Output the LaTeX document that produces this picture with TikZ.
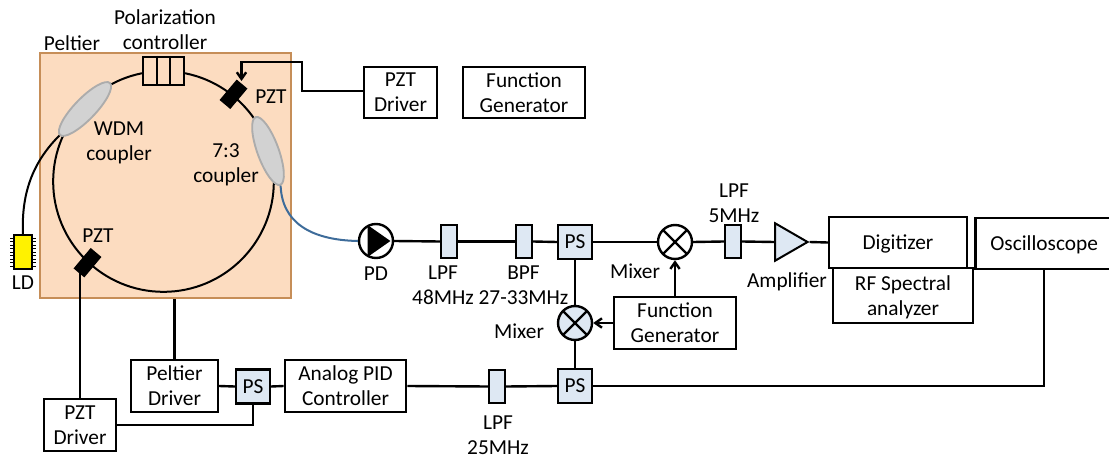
\documentclass[tikz,border=0pt]{standalone}
\usepackage{fontspec}
\setmainfont{Carlito}
\usetikzlibrary{shapes.geometric}
\usetikzlibrary{arrows.meta}
\definecolor{cpeltier}{RGB}{252, 220, 192}
\definecolor{cedge}{RGB}{198, 142, 88}
\definecolor{cpart}{RGB}{222, 232, 243}
\definecolor{cfibre}{RGB}{62, 108, 154}
\tikzset{
  lbl/.style={inner sep=0pt, align=center, text depth=0pt, font=\fontsize{16}{18.7}\selectfont},
  box/.style={rectangle, draw=black, line width=1.8pt, inner sep=0pt, align=center, text depth=0pt, font=\fontsize{16}{18.7}\selectfont},
  part/.style={rectangle, draw=black, fill=cpart, line width=1.8pt, inner sep=0pt, minimum width=12pt, minimum height=25pt},
  psbox/.style={part, minimum width=25.5pt, minimum height=25.5pt, font=\fontsize{16}{18.7}\selectfont},
  mixer/.style={circle, draw=black, line width=1.8pt, minimum size=25.5pt, inner sep=0pt,
    path picture={\draw [line width=1.8pt] (path picture bounding box.north west) -- (path picture bounding box.south east)
      (path picture bounding box.north east) -- (path picture bounding box.south west);}},
  pzt/.style={rectangle, fill=black, minimum width=20pt, minimum height=10.5pt, inner sep=0pt, rotate=50},
  coupler/.style={ellipse, draw=gray!65, fill=gray!35, line width=1.4pt, inner sep=0pt, minimum width=54pt, minimum height=16pt},
  wire/.style={line width=1.8pt, color=black},
  fibre/.style={line width=1.5pt, color=black},
}
\begin{document}
\begin{tikzpicture}[x=0.75pt, y=-0.75pt]
\useasboundingbox (0,0) rectangle (1109,459);
% temperature stage and fibre ring
\node (stage) [rectangle, draw=cedge, fill=cpeltier, line width=1.5pt, minimum width=188pt, minimum height=183.5pt, inner sep=0pt] at (165.5,175.5) {};
\node (ring) [circle, draw=black, line width=1.5pt, minimum size=165.5pt, inner sep=0pt] at (163.5,181.5) {};
\node (pc) [rectangle, draw=black, fill=cpeltier, line width=1.5pt, minimum width=31pt, minimum height=21pt, inner sep=0pt] at (163.3,71) {};
\draw [fibre] ([xshift=-5pt]pc.north) -- ([xshift=-5pt]pc.south);
\draw [fibre] ([xshift=5pt]pc.north) -- ([xshift=5pt]pc.south);
\node (wdm) [coupler, rotate=46] at (85,109) {};
\node (tap) [coupler, rotate=-70] at (268,151) {};
\node (pzttop) [pzt] at (233.5,94.3) {};
\node (pztbot) [pzt] at (87.5,262.7) {};
\node (ld) [rectangle, draw=black, fill=yellow, line width=1.5pt, minimum width=13pt, minimum height=25.5pt, inner sep=0pt] at (23,252) {};
\foreach \y in {238,241.5,...,267} {
  \draw [line width=0.7pt] (10,\y) -- (14,\y);
  \draw [line width=0.7pt] (32,\y) -- (36,\y);
}
% upper driver
\node (pztdrvtop) [box, minimum width=54.5pt, minimum height=38pt] at (400.5,92.5) {PZT\\Driver};
\node (fgtop) [box, minimum width=91.5pt, minimum height=38pt] at (524,92.5) {Function\\Generator};
% signal line
\node (pd) [circle, draw=black, fill=white, line width=1.8pt, minimum size=25.5pt, inner sep=0pt] at (376,241) {};
\node (pdtri) [isosceles triangle, isosceles triangle apex angle=70, fill=black, inner sep=0pt, minimum height=17pt, minimum width=19pt] at (376,241) {};
\node (lpfa) [part] at (449,241.5) {};
\node (bpf) [part] at (524,241.5) {};
\node (psa) [psbox] at (575,242) {PS};
\node (mixa) [mixer, fill=white] at (675,242) {};
\node (lpfb) [part] at (733,241.5) {};
\node (amp) [isosceles triangle, isosceles triangle apex angle=60, draw=black, fill=cpart, line width=1.5pt, inner sep=0pt, minimum height=24pt, minimum width=28pt] at (786,242) {};
\node (dig) [box, minimum width=103.5pt, minimum height=38.5pt] at (898,242.5) {Digitizer};
\node (rf) [box, minimum width=105pt, minimum height=41pt] at (903,295.5) {RF Spectral\\analyzer};
\node (osc) [box, minimum width=103pt, minimum height=38.5pt, text width=90pt, align=left] at (1044,243.5) {\hspace{4.75pt}Oscilloscope};
% lower loop
\node (mixb) [mixer, fill=cpart] at (575,323) {};
\node (fgb) [box, minimum width=91.5pt, minimum height=39pt] at (675,323) {Function\\Generator};
\node (psb) [psbox] at (575,386) {PS};
\node (lpfc) [part] at (497,386.5) {};
\node (pid) [box, minimum width=91pt, minimum height=39pt] at (345.5,386) {Analog PID\\Controller};
\node (psc) [psbox] at (253,386.5) {PS};
\node (peldrv) [box, minimum width=65pt, minimum height=39pt] at (174.5,386) {Peltier\\Driver};
\node (pztdrvbot) [box, minimum width=54pt, minimum height=39pt] at (80,425) {PZT\\Driver};
% labels
\node (lblpel) [lbl] at (72,43) {Peltier};
\node (lblpc) [lbl] at (165,30) {Polarization\\controller};
\node (lblwdm) [lbl] at (119,141) {WDM\\coupler};
\node (lbltap) [lbl] at (226,163) {7:3\\coupler};
\node (lblpzta) [lbl] at (271,97) {PZT};
\node (lblpztb) [lbl] at (98,236) {PZT};
\node (lblld) [lbl] at (23,283) {LD};
\node (lblpd) [lbl] at (376,274) {PD};
\node (lbllpfa) [lbl] at (443,285.5) {LPF\\48MHz};
\node (lblbpf) [lbl] at (523.5,285.5) {BPF\\27-33MHz};
\node (lblmixa) [lbl] at (635,271) {Mixer};
\node (lblmixb) [lbl] at (519,331) {Mixer};
\node (lbllpfb) [lbl] at (734,203) {LPF\\5MHz};
\node (lblamp) [lbl] at (787,280) {Amplifier};
\node (lbllpfc) [lbl] at (498,435) {LPF\\25MHz};
% fibres
\coordinate (pzttip) at (241.5,81);
\coordinate (bendone) at (241.5,62);
\coordinate (bendtwo) at (302,62);
\coordinate (bendthree) at (302,91);
\coordinate (oscdrop) at (1044,386);
\coordinate (pztcorner) at (253,425);
\draw [fibre] (ld.north) .. controls (21,190) and (35,160) .. (wdm.west);
\draw [line width=1.5pt, color=cfibre] (tap.east) .. controls (282,222) and (310,240) .. (pd.west);
% wires
\draw [wire, -{Straight Barb[length=5pt,width=7pt]}] (pztdrvtop.west |- bendthree) -- (bendthree) -- (bendtwo) -- (bendone) -- (pzttip);
\draw [wire] (pd.east) -- (lpfa.west);
\draw [wire] (lpfa.east) -- (bpf.west);
\draw [wire] (bpf.east) -- (psa.west);
\draw [wire] (psa.east) -- (mixa.west);
\draw [wire] (mixa.east) -- (lpfb.west);
\draw [wire] (lpfb.east) -- (amp.west);
\draw [wire] (amp.east) -- (dig.west);
\draw [wire] (psa.south) -- (mixb.north);
\draw [wire] (mixb.south) -- (psb.north);
\draw [wire, -{Straight Barb[length=5pt,width=7pt]}] (fgb.west) -- (mixb.east);
\draw [wire, -{Straight Barb[length=5pt,width=7pt]}] (fgb.north) -- (mixa.south);
\draw [wire] (psb.west) -- (lpfc.east);
\draw [wire] (lpfc.west) -- (pid.east);
\draw [wire] (pid.west) -- (psc.east);
\draw [wire] (psc.west) -- (peldrv.east);
\draw [wire] (psb.east) -- (oscdrop) -- (osc.south);
\draw [wire] (psc.south) -- (pztcorner) -- (pztdrvbot.east);
\draw [wire] (pztdrvbot.north) -- (pztbot.south -| pztdrvbot.north);
\draw [wire] (peldrv.north) -- (stage.south -| peldrv.north);
\end{tikzpicture}
\end{document}
